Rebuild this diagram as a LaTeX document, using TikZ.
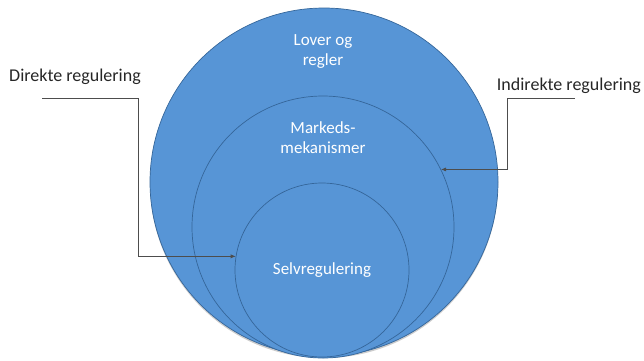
\documentclass[tikz,border=0pt]{standalone}
\usepackage{fontspec}
\setmainfont{Carlito}
\usetikzlibrary{arrows.meta, positioning, shadows}
\definecolor{ringblue}{HTML}{5795D6}
\definecolor{ringedge}{HTML}{35669A}
\definecolor{labelgray}{HTML}{262626}
\definecolor{leadgray}{HTML}{4D4D4D}
\tikzstyle{ring} = [circle, draw=ringedge, line width=0.7pt, fill=ringblue, inner sep=0pt]
\tikzstyle{ringtext} = [text=white, align=center, font=\fontsize{17}{20}\selectfont]
\tikzstyle{sidelabel} = [text=labelgray, font=\fontsize{18}{20}\selectfont, inner sep=0pt]
\tikzstyle{leader} = [draw=leadgray, line width=0.6pt, -{Latex[length=5pt,width=4pt]}]

\begin{document}
\begin{tikzpicture}[x=1pt, y=-1pt]
    \useasboundingbox (0,0) rectangle (644,360);
    % the three circles
    \node [ring, minimum size=348pt,
      drop shadow={opacity=0.4, shadow xshift=0pt, shadow yshift=-2pt}] (outer) at (324,182) {};
    \node [ring, minimum size=262pt] (middle) at (323,227) {};
    \node [ring, minimum size=174pt] (inner) at (322,270) {};
    \node [ringtext] (lover) at (323,52) {Lover og\\regler};
    \node [ringtext] (marked) at (323,138) {Markeds-\\mekanismer};
    \node [ringtext] (selv) at (322,270) {Selvregulering};
    % labels outside
    \node [sidelabel, anchor=west] (direkte) at (9,77) {Direkte regulering};
    \node [sidelabel, anchor=east] (indirekte) at (641,86) {Indirekte regulering};
    \coordinate (dstart) at (42,98);
    \coordinate (istart) at (575,98);
    \draw [leader] (dstart) -- (138,98) |- (inner.171);
    \draw [leader] (istart) -- (507,98) |- (middle.26);
\end{tikzpicture}
\end{document}
